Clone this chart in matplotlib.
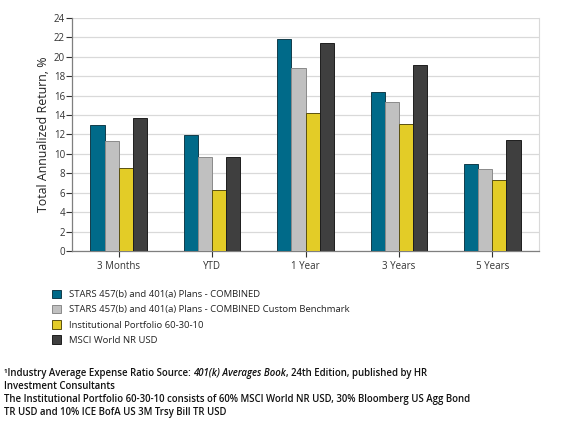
import numpy as np
import matplotlib
matplotlib.use('Agg')
import matplotlib.pyplot as plt
from matplotlib.patches import Patch

plt.rcParams['font.family'] = ['Open Sans', 'DejaVu Sans']

periods = ['3 Months', 'YTD', '1 Year', '3 Years', '5 Years']
stars = [13.0, 11.9, 21.8, 16.4, 9.0]
bench = [11.3, 9.7, 18.9, 15.3, 8.4]
inst = [8.5, 6.3, 14.2, 13.1, 7.3]
msci = [13.7, 9.7, 21.4, 19.2, 11.4]

names = ['STARS 457(b) and 401(a) Plans - COMBINED',
         'STARS 457(b) and 401(a) Plans - COMBINED Custom Benchmark',
         'Institutional Portfolio 60-30-10',
         'MSCI World NR USD']
colors = ['#006A89', '#C0C0C0', '#E3CC27', '#3F3F3F']
edges = ['#123C4A', '#8A8A8A', '#5A5010', '#1E1E1E']

fig = plt.figure(figsize=(5.63, 4.29), dpi=100)
ax = fig.add_axes([72/563, 1-251/429, 467/563, 233/429])

x = np.arange(len(periods))
w = 0.152
series = [stars, bench, inst, msci]
for i, s in enumerate(series):
    ax.bar(x + (i-1.5)*w, s, w, color=colors[i], edgecolor=edges[i], linewidth=0.7, zorder=3)

ax.set_xlim(-0.5, 4.5)
ax.set_ylim(0, 24)
ax.set_yticks(range(0, 25, 2))
ax.set_xticks(x)
ax.set_xticklabels(periods)
ax.tick_params(labelsize=7.0, colors='#333333', length=4, width=0.8)
ax.tick_params(axis='x', pad=3)
ax.tick_params(axis='y', pad=1)
ax.yaxis.grid(True, color='#D9D9D9', lw=0.9, zorder=0)
ax.set_axisbelow(True)
for side in ['left', 'bottom']:
    ax.spines[side].set_color('#7F7F7F')
    ax.spines[side].set_linewidth(0.9)
ax.spines['right'].set_color('#D9D9D9')
ax.spines['top'].set_visible(False)
ax.set_ylabel('Total Annualized Return, %', fontsize=8.9, color='#222222')
ax.yaxis.set_label_coords(-0.047, 0.5)

handles = [Patch(facecolor=colors[i], edgecolor=edges[i], linewidth=0.7) for i in range(4)]
fig.legend(handles, names, loc='upper left', bbox_to_anchor=(52/563, 1-289.5/429),
           frameon=False, fontsize=6.8, handlelength=1.0, handleheight=1.0,
           handletextpad=0.75, labelspacing=0.62, borderaxespad=0, borderpad=0,
           labelcolor='#222222')

fs = 6.9
tc = '#111111'
wt = 600
y0 = 1-376/429
t1 = fig.text(4/563, y0, '\u00b9Industry Average Expense Ratio Source: ', fontsize=fs, color=tc, va='baseline', weight=wt)
t2 = fig.text(0, 0, '401(k) Averages Book', fontsize=fs, color=tc, style='italic', va='baseline', weight=wt)
t3 = fig.text(0, 0, ', 24th Edition, published by HR', fontsize=fs, color=tc, va='baseline', weight=wt)
fig.canvas.draw()
r = fig.canvas.get_renderer()
inv = fig.transFigure.inverted()
b1 = t1.get_window_extent(r)
t2.set_position((inv.transform((b1.x1, 0))[0], y0))
fig.canvas.draw()
b2 = t2.get_window_extent(r)
t3.set_position((inv.transform((b2.x1, 0))[0], y0))

foot = ['Investment Consultants',
        'The Institutional Portfolio 60-30-10 consists of 60% MSCI World NR USD, 30% Bloomberg US Agg Bond',
        'TR USD and 10% ICE BofA US 3M Trsy Bill TR USD']
for k, line in enumerate(foot):
    fig.text(4/563, 1-(389+13*k)/429, line, fontsize=fs, color=tc, va='baseline', weight=wt)

fig.savefig('out.png', dpi=100)
